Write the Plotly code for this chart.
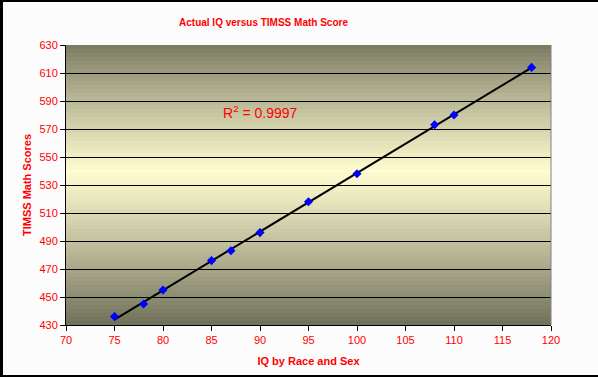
import numpy as np
import plotly.graph_objects as go

iq = [75, 78, 80, 85, 87, 90, 95, 100, 108, 110, 118]
timss = [436, 445, 455, 476, 483, 496, 518, 538, 573, 580, 614]
x_ticks = list(range(70, 121, 5))
y_ticks = list(range(430, 631, 20))

W, H = 598, 377
L, R, T, B = 66, 47, 45, 52
pw, ph = W - L - R, H - T - B

coef = np.polyfit(iq, timss, 1)
fit_x = [min(iq), max(iq)]
fit_y = [coef[0] * v + coef[1] for v in fit_x]
pred = np.polyval(coef, iq)
ss_res = float(np.sum((np.array(timss) - pred) ** 2))
ss_tot = float(np.sum((np.array(timss) - np.mean(timss)) ** 2))
r2 = 1 - ss_res / ss_tot

fig = go.Figure()
fig.add_trace(go.Scatter(x=fit_x, y=fit_y, mode="lines",
                         line=dict(color="black", width=2), hoverinfo="skip"))
fig.add_trace(go.Scatter(x=iq, y=timss, mode="markers",
                         marker=dict(symbol="diamond", size=7, color="#0000ff",
                                     line=dict(width=0))))

# gradient background bands
top = np.array([122, 122, 98])
mid = np.array([255, 252, 208])
bot = np.array([112, 112, 90])
peak = 0.45
n = 70
shapes = []
for i in range(n):
    f0 = i / n
    f1 = (i + 1) / n
    fc = (f0 + f1) / 2  # fraction from top
    if fc < peak:
        t = fc / peak
        c = top + (mid - top) * (t ** 0.9)
    else:
        t = (fc - peak) / (1 - peak)
        c = mid + (bot - mid) * (t ** 1.1)
    col = "rgb(%d,%d,%d)" % tuple(int(round(v)) for v in c)
    shapes.append(dict(type="rect", xref="paper", yref="paper",
                       x0=0, x1=1, y0=1 - f1 - 0.001, y1=1 - f0,
                       fillcolor=col, line=dict(width=0), layer="below"))

# plot area right border
shapes.append(dict(type="line", xref="paper", yref="paper", x0=1, x1=1, y0=0, y1=1,
                   line=dict(color="#808080", width=1)))

def px_x(p):
    return (p - L) / pw

def px_y(p):
    return 1 - (p - T) / ph

# outer frame: left, top, bottom
shapes.append(dict(type="line", xref="paper", yref="paper", x0=px_x(1.5), x1=px_x(1.5),
                   y0=px_y(0), y1=px_y(H), line=dict(color="black", width=3)))
shapes.append(dict(type="line", xref="paper", yref="paper", x0=px_x(0), x1=px_x(W),
                   y0=px_y(1), y1=px_y(1), line=dict(color="black", width=2)))
shapes.append(dict(type="line", xref="paper", yref="paper", x0=px_x(0), x1=px_x(W),
                   y0=px_y(376), y1=px_y(376), line=dict(color="black", width=2)))

font = "Liberation Sans, Arial, sans-serif"
fig.update_layout(
    width=W, height=H,
    margin=dict(l=L, r=R, t=T, b=B),
    paper_bgcolor="#fcfcfc",
    plot_bgcolor="rgba(0,0,0,0)",
    showlegend=False,
    shapes=shapes,
    title=dict(text="<b>Actual IQ versus TIMSS Math Score</b>",
               font=dict(family=font, size=10, color="#ff0000"),
               x=263.5 / W, xanchor="center", xref="container",
               y=1 - 22 / H, yanchor="middle", yref="container"),
    xaxis=dict(range=[70, 120], tickvals=x_ticks, showgrid=False,
               showline=True, linecolor="black", linewidth=1,
               ticks="outside", ticklen=5, tickcolor="black",
               tickfont=dict(family=font, size=11, color="#ff0000"),
               title=dict(text="<b>IQ by Race and Sex</b>",
                          font=dict(family=font, size=11, color="#ff0000"),
                          standoff=12),
               zeroline=False, fixedrange=True),
    yaxis=dict(range=[430, 630], tickvals=y_ticks, showgrid=True,
               gridcolor="black", gridwidth=1,
               showline=True, linecolor="black", linewidth=1,
               ticks="outside", ticklen=5, tickcolor="black",
               tickfont=dict(family=font, size=11, color="#ff0000"),
               title=dict(text="<b>TIMSS Math Scores</b>",
                          font=dict(family=font, size=11, color="#ff0000"),
                          standoff=5),
               zeroline=False, fixedrange=True),
    annotations=[dict(x=90.1, y=582.4, xref="x", yref="y",
                      text="R<sup>2</sup> = %.4f" % r2, showarrow=False,
                      font=dict(family=font, size=14, color="#ff0000"))],
)

fig.write_html("out.html", config={"displayModeBar": False},
               post_script="document.body.style.margin='0';document.body.style.overflow='hidden';")
